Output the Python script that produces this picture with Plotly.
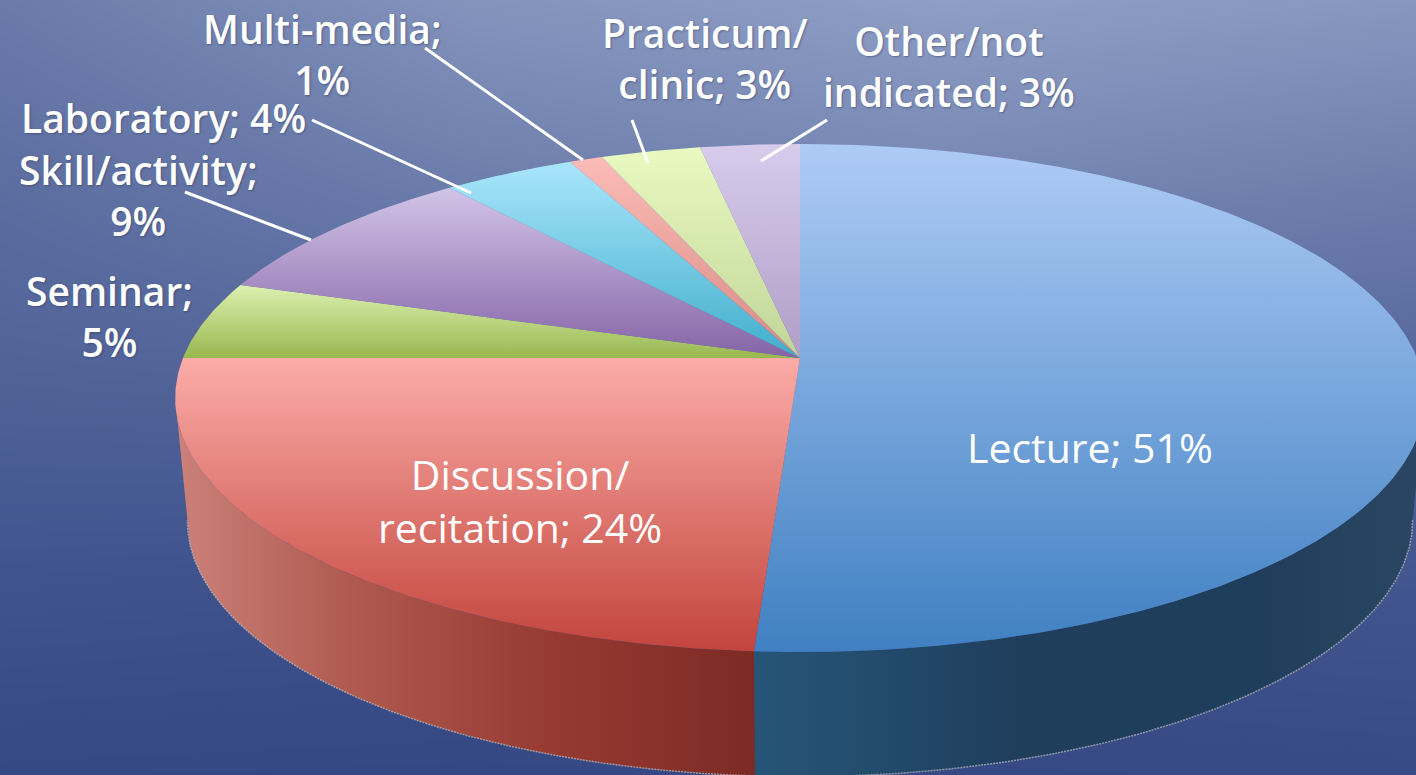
import numpy as np
import plotly.graph_objects as go

# ---- chart data ----
categories = ["Lecture", "Discussion/recitation", "Seminar", "Skill/activity",
              "Laboratory", "Multi-media", "Practicum/clinic", "Other/not indicated"]
shares = [51, 24, 5, 9, 4, 1, 3, 3]
label_texts = ["Lecture; 51%", "Discussion/<br>recitation; 24%", "Seminar;<br>5%",
               "Skill/activity;<br>9%", "Laboratory; 4%", "Multi-media;<br>1%",
               "Practicum/<br>clinic; 3%", "Other/not<br>indicated; 3%"]

# ---- styles ----
top_stops = ["#aecbf5", "#fcaca8", "#dcf0b0", "#d2c4e8", "#aae6fc", "#fcbcb8", "#e8fac0", "#d8cbec"]
bot_stops = ["#4080c2", "#c2453c", "#98b850", "#8464a6", "#40aecb", "#d88a84", "#c0d498", "#b09ec6"]

W, H = 1416, 775
CX, AY = 800.0, 358.0      # pie apex on the top face
K = 0.1575                 # perspective strength
A, B = 617.0, 247.7        # top face scale
BOT_AY, BOT_A, BOT_B = 480.0, 605.0, 250.0   # bottom rim of the wall


def project(theta_deg, ay=AY, a=A, b=B):
    t = np.radians(np.asarray(theta_deg, dtype=float))
    u, v = np.sin(t), np.cos(t) * -1.0  # v>0 is toward the viewer
    w = 1 - K * v
    return CX + a * u / w, ay + b * v / w


fig = go.Figure()

# background
bg_x = [0, 472, 944, 1416]
bg_y = [0, 194, 388, 581, 775]
bg_z = [[0.60, 0.88, 1.00, 0.92],
        [0.44, 0.62, 0.72, 0.62],
        [0.31, 0.34, 0.42, 0.36],
        [0.15, 0.12, 0.14, 0.17],
        [0.03, 0.02, 0.03, 0.05]]
fig.add_trace(go.Heatmap(x=bg_x, y=bg_y, z=bg_z, zsmooth="best", zmin=0, zmax=1,
                         colorscale=[[0, "#334683"], [1, "#8e9ec4"]],
                         showscale=False, hoverinfo="skip"))

edges = np.concatenate([[0], np.cumsum(shares)]) / sum(shares) * 360.0

# side wall of the two front slices
LEFT_SIL = 261.0
RIGHT_SIL = 99.0
walls = [(RIGHT_SIL, edges[1],
          [[0, "#2b4662"], [0.25, "#1f3e5c"], [0.6, "#1f3e5c"], [1, "#265578"]], 1425, 754),
         (edges[1], LEFT_SIL,
          [[0, "#7c2a24"], [0.35, "#963a32"], [0.7, "#b05a50"], [1, "#cb827a"]], 754, 175)]
for t0, t1, cs, g0, g1 in walls:
    th = np.linspace(t0, t1, 200)
    xt, yt = project(th)
    xb, yb = project(th, BOT_AY, BOT_A, BOT_B)
    fig.add_trace(go.Scatter(
        x=np.r_[xt, xb[::-1]], y=np.r_[yt, yb[::-1]], mode="lines", line=dict(width=0),
        fill="toself", hoverinfo="skip", showlegend=False,
        fillgradient=dict(type="horizontal", start=g0, stop=g1, colorscale=cs)))
    fig.add_trace(go.Scatter(x=xb, y=yb, mode="lines", hoverinfo="skip", showlegend=False,
                             line=dict(width=1.5, color="rgba(190,190,190,0.7)", dash="2px,1px")))

# top face wedges
for i, name in enumerate(categories):
    th = np.linspace(edges[i], edges[i + 1], max(8, int(shares[i] * 6)))
    xs, ys = project(th)
    fig.add_trace(go.Scatter(
        x=np.r_[CX, xs, CX], y=np.r_[AY, ys, AY], mode="lines", line=dict(width=0),
        fill="toself", name=name, hoverinfo="name", showlegend=False,
        fillgradient=dict(type="vertical",
                          start=min(ys.min(), AY), stop=max(ys.max(), AY),
                          colorscale=[[0, top_stops[i]], [1, bot_stops[i]]])))

# leader lines
leaders = [(425, 48, 583, 160), (632, 120, 648, 163), (827, 120, 761, 161),
           (312, 120, 471, 193), (185, 192, 311, 240)]
shapes = [dict(type="line", xref="x", yref="y", x0=a, y0=b, x1=c, y1=d,
               line=dict(color="white", width=3), layer="above") for a, b, c, d in leaders]

# label centres: (index, x, y, outer)
spots = [(0, 1090, 447, False), (1, 520, 500, False), (2, 109, 316, True), (3, 138, 195, True),
         (4, 163, 117, True), (5, 322, 54, True), (6, 705, 58, True), (7, 949, 66, True)]
for i, x, y, outer in spots:
    fig.add_annotation(x=x, y=y, text=label_texts[i], showarrow=False, align="center",
                       xanchor="center", yanchor="middle",
                       font=dict(family="Open Sans", size=39 if outer else 41, color="white",
                                 weight=600 if outer else 400,
                                 shadow="1px 1px 2px rgba(40,50,90,0.45)" if outer else "none"))

fig.update_layout(
    width=W, height=H, margin=dict(l=0, r=0, t=0, b=0), showlegend=False,
    paper_bgcolor="#334683", plot_bgcolor="#334683", shapes=shapes,
    xaxis=dict(range=[0, W], visible=False, fixedrange=True),
    yaxis=dict(range=[H, 0], visible=False, fixedrange=True),
)
fig.write_html("out.html", config=dict(displayModeBar=False),
               post_script="document.body.style.margin='0';document.body.style.overflow='hidden';")
